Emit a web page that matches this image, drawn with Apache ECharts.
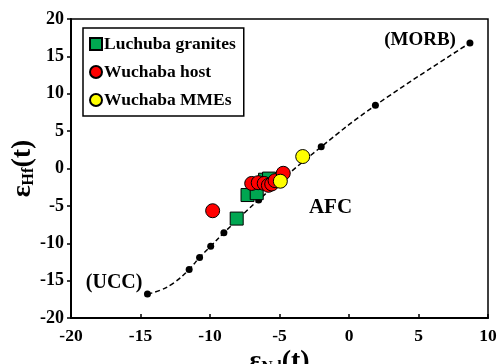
<!DOCTYPE html>
<html><head><meta charset="utf-8">
<script src="https://cdn.jsdelivr.net/npm/echarts@6/dist/echarts.min.js"></script>
<style>html,body{margin:0;padding:0;background:#fff}#c{width:497px;height:364px}</style>
</head><body><div id="c"></div>
<script>
// AFC mixing curve (line) and its tick dots
const curveLine = [[-14.5,-16.8],[-13.6,-16.3],[-12.6,-15.3],[-11.5,-13.5],[-10.75,-11.9],[-9.95,-10.4],[-9.0,-8.6],[-6.5,-4.2],[-2.0,2.9],[1.9,8.45],[8.7,16.8]];
const curveDots = [[-14.5,-16.8],[-11.5,-13.5],[-10.75,-11.9],[-9.95,-10.4],[-9.0,-8.6],[-6.5,-4.2],[-2.0,2.9],[1.9,8.45],[8.7,16.8]];
const luchuba = [[-8.08,-6.7],[-7.3,-3.55],[-6.64,-3.3],[-6.04,-1.5],[-5.75,-1.35]];
const wuchabaHost = [[-9.81,-5.65],[-7.0,-2.0],[-6.53,-1.9],[-6.1,-2.0],[-5.8,-2.25],[-5.56,-2.07],[-5.32,-1.63],[-4.73,-0.64]];
const wuchabaMME = [[-3.33,1.6],[-4.94,-1.7]];
const annotations = [
  {text:'(UCC)',at:[-14.5,-16.8]},
  {text:'(MORB)',at:[8.7,16.8]},
  {text:'AFC',at:[-1.3,-5.2]}
];
const xTicks = {min:-20,max:10,interval:5};
const yTicks = {min:-20,max:20,interval:5};

const serif = 'Liberation Serif';
const chart = echarts.init(document.getElementById('c'));
const rich = {
  e:{fontFamily:serif,fontWeight:'bold',fontSize:28,color:'#000'},
  s:{fontFamily:serif,fontWeight:'bold',fontSize:16,color:'#000',verticalAlign:'bottom',padding:[12,0,0,0]},
  t:{fontFamily:serif,fontWeight:'bold',fontSize:28,color:'#000'}
};
const labelBase = {show:true,fontFamily:serif,fontWeight:'bold',fontSize:20,color:'#000'};
chart.setOption({
  animation:false,
  grid:{left:71,right:9,top:19,bottom:46,show:true,borderColor:'#000',borderWidth:1.5,
        containLabel:false,outerBoundsMode:'none'},
  legend:{
    orient:'vertical',left:83,top:28,padding:[7,8,7,6],itemGap:10,
    itemWidth:12,itemHeight:12,borderColor:'#000',borderWidth:1.5,backgroundColor:'#fff',
    textStyle:{fontFamily:serif,fontWeight:'bold',fontSize:17.5,color:'#000',padding:[0,0,0,-3]},
    data:['Luchuba granites','Wuchaba host','Wuchaba MMEs']
  },
  xAxis:{
    type:'value',min:xTicks.min,max:xTicks.max,interval:xTicks.interval,
    axisLine:{onZero:false,lineStyle:{color:'#000',width:2}},
    axisTick:{inside:true,length:4,lineStyle:{color:'#000',width:1.5}},
    splitLine:{show:false},
    axisLabel:{fontFamily:serif,fontWeight:'bold',fontSize:17.5,color:'#000',margin:9},
    name:'{e|ε}{s|Nd}{t|(t)}',nameLocation:'middle',nameGap:30,nameMoveOverlap:false,
    nameTextStyle:{rich:rich}
  },
  yAxis:{
    type:'value',min:yTicks.min,max:yTicks.max,interval:yTicks.interval,
    axisLine:{onZero:false,lineStyle:{color:'#000',width:2}},
    axisTick:{inside:false,length:4,lineStyle:{color:'#000',width:1.5}},
    splitLine:{show:false},
    axisLabel:{fontFamily:serif,fontWeight:'bold',fontSize:18,color:'#000',margin:7},
    name:'{e|ε}{s|Hf}{t|(t)}',nameLocation:'middle',nameGap:34,nameRotate:90,nameMoveOverlap:false,
    nameTextStyle:{rich:rich}
  },
  series:[
    {type:'line',data:curveLine,smooth:0.4,symbol:'none',z:2,
     lineStyle:{color:'#000',width:1.5,type:[5,3]}},
    {type:'scatter',data:curveDots,symbol:'circle',symbolSize:7,z:3,
     itemStyle:{color:'#000',opacity:1}},
    {type:'scatter',symbol:'circle',symbolSize:0,itemStyle:{color:'#000',opacity:1},z:6,silent:true,
     data:[
        {value:annotations[0].at,label:Object.assign({},labelBase,{position:'left',distance:4,offset:[-1,-11],formatter:annotations[0].text})},
        {value:annotations[1].at,label:Object.assign({},labelBase,{fontSize:19,position:'left',distance:14,offset:[0,-3],formatter:annotations[1].text})},
        {value:annotations[2].at,label:Object.assign({},labelBase,{position:'right',distance:0,offset:[-22,0],fontSize:21,formatter:annotations[2].text})}
     ]},
    {name:'Luchuba granites',type:'scatter',data:luchuba,symbol:'rect',symbolSize:13,z:4,
     itemStyle:{color:'#00a651',borderColor:'#000',borderWidth:1,opacity:1}},
    {name:'Wuchaba host',type:'scatter',data:wuchabaHost,symbol:'circle',symbolSize:14,z:5,
     itemStyle:{color:'#ff0000',borderColor:'#000',borderWidth:1,opacity:1}},
    {name:'Wuchaba MMEs',type:'scatter',data:wuchabaMME,symbol:'circle',symbolSize:14,z:5,
     itemStyle:{color:'#ffff00',borderColor:'#000',borderWidth:1,opacity:1}}
  ]
});
</script></body></html>
